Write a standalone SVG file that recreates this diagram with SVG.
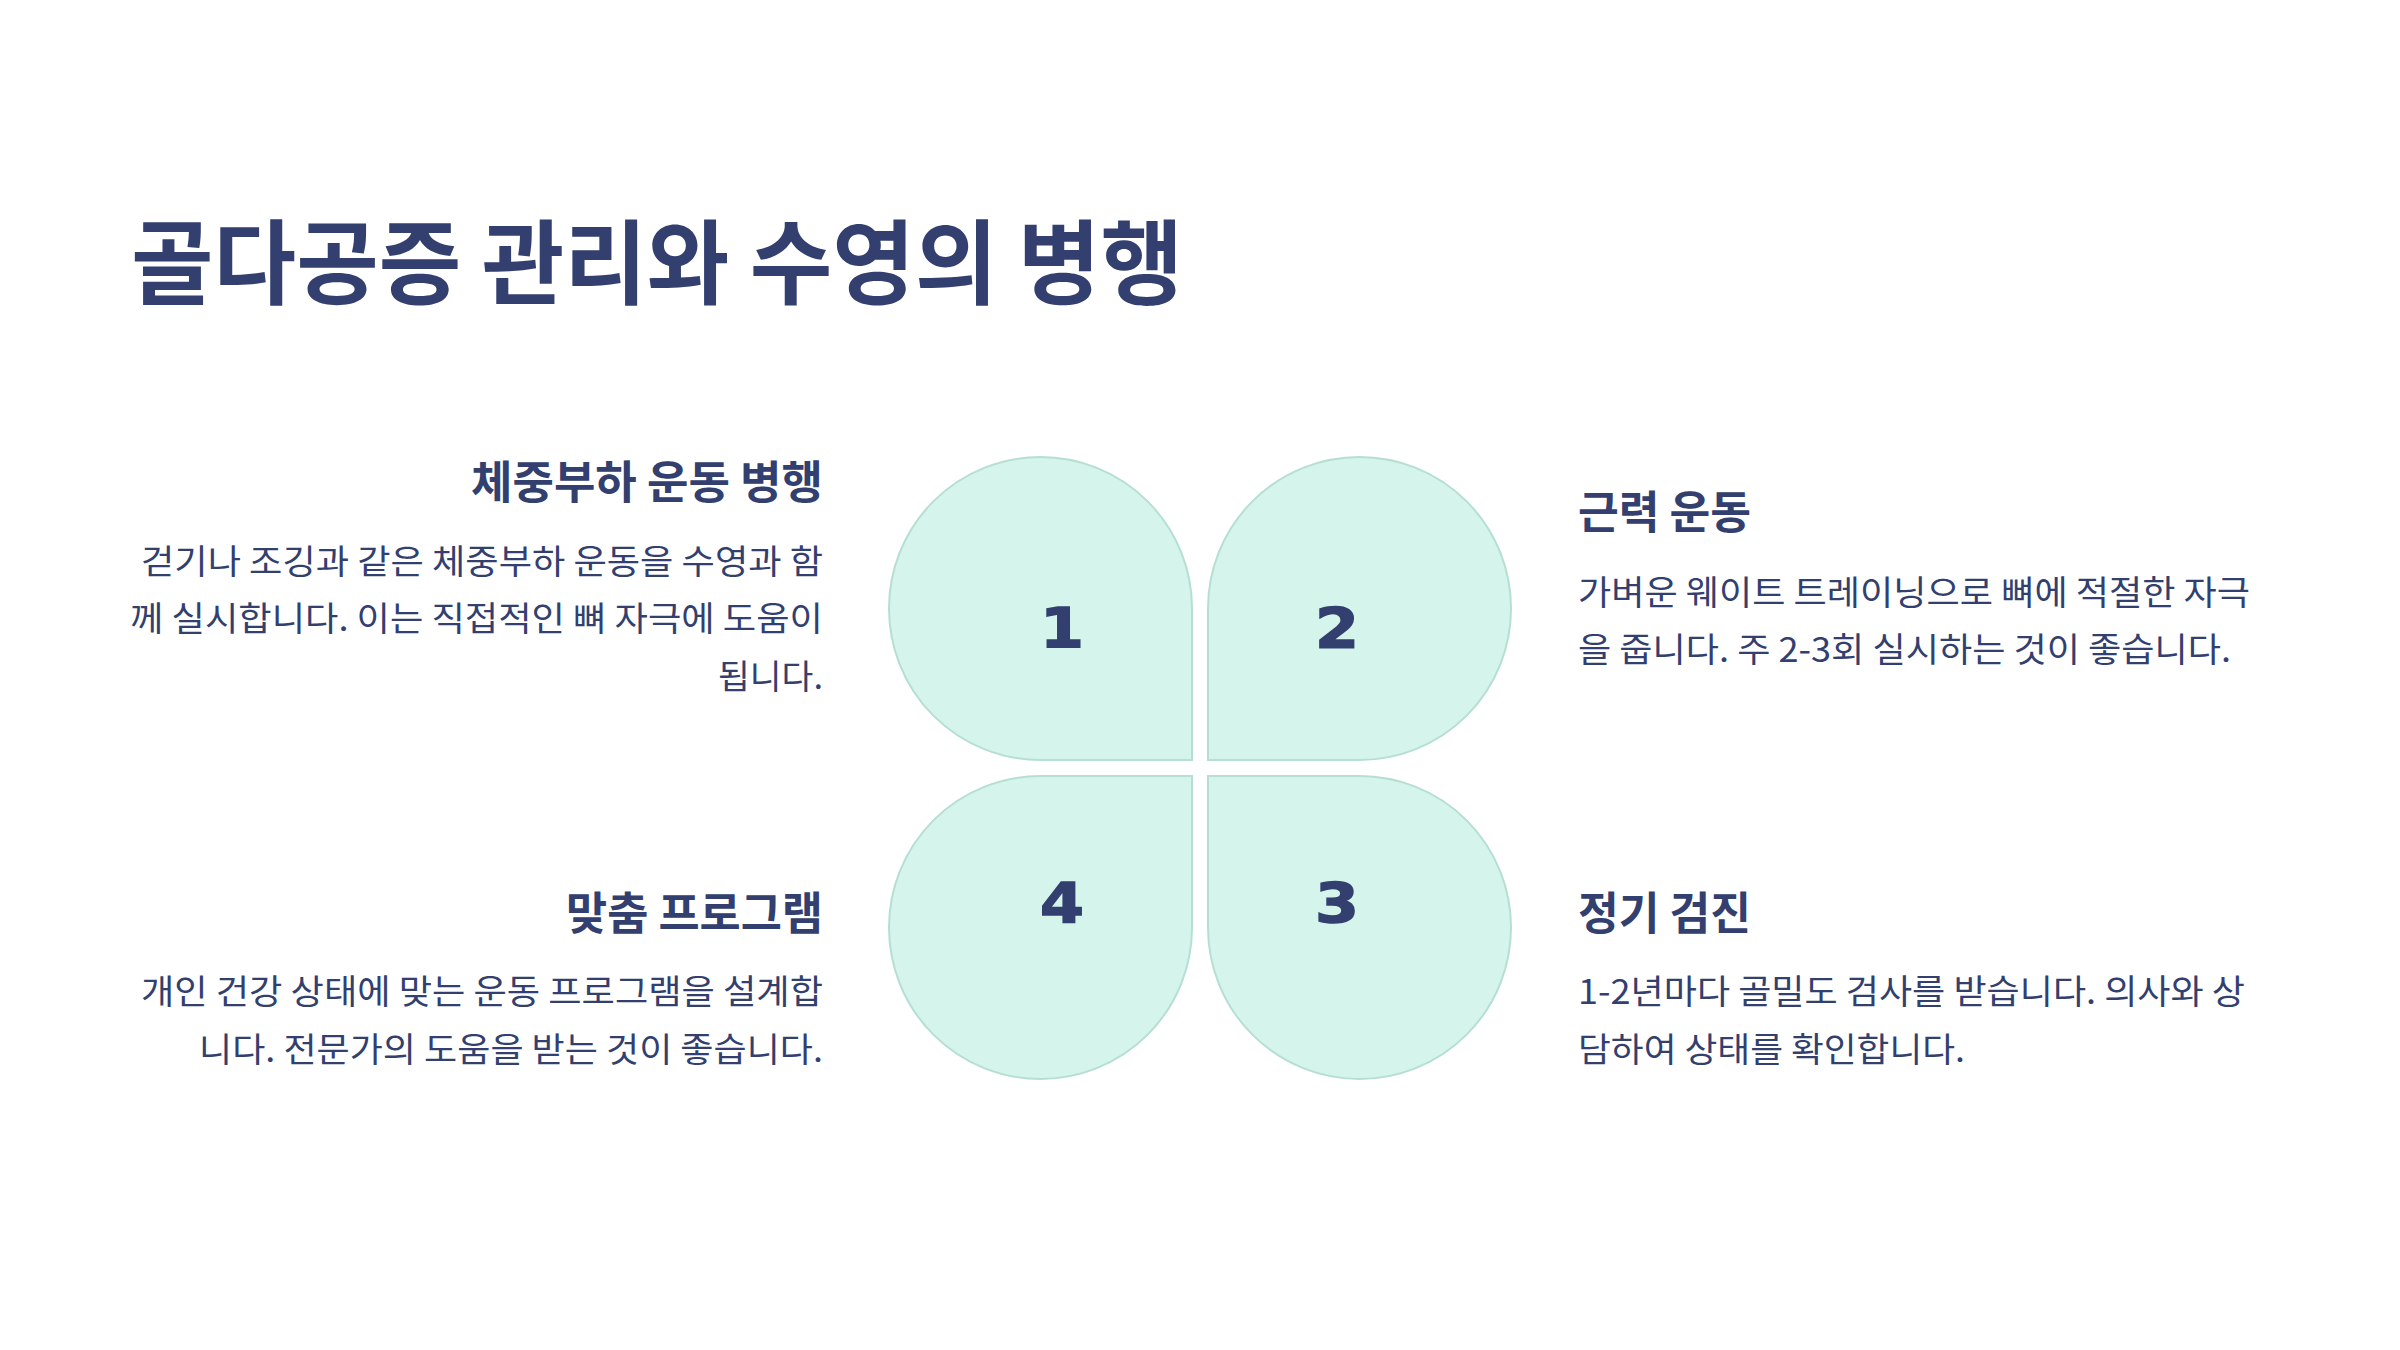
<svg xmlns="http://www.w3.org/2000/svg" width="2400" height="1350" viewBox="0 0 2400 1350">
<style>
.t{font-family:"Noto Sans CJK KR","Noto Sans",sans-serif;fill:#323F6F}
.title{font-size:92px;font-weight:700}
.h{font-size:45px;font-weight:700}
.b{font-size:34px;font-weight:400}
.petal{fill:#D5F4EC;stroke:#B6DFD4;stroke-width:2}
.num{font-family:"DejaVu Sans",sans-serif;font-weight:700;font-size:55px;fill:#323F6F;stroke:#323F6F;stroke-width:1.5;text-anchor:middle}
.r{text-anchor:end}
</style>
<rect width="2400" height="1350" fill="#FFFFFF"/>
<text class="t title" x="131" y="297" textLength="1052" lengthAdjust="spacingAndGlyphs">골다공증 관리와 수영의 병행</text>

<g id="node1">
<path class="petal" d="M1192 760 L1040.5 760 A151.5 151.5 0 0 1 889 608.5 A151.5 151.5 0 0 1 1040.5 457 A151.5 151.5 0 0 1 1192 608.5 Z"/>
<text class="num" transform="translate(1062,647) scale(1.15,1)">1</text>
<text class="t h r" x="823" y="499" textLength="352" lengthAdjust="spacingAndGlyphs">체중부하 운동 병행</text>
<text class="t b r" x="823" y="574" textLength="682" lengthAdjust="spacingAndGlyphs">걷기나 조깅과 같은 체중부하 운동을 수영과 함</text>
<text class="t b r" x="823" y="631" textLength="693" lengthAdjust="spacingAndGlyphs">께 실시합니다. 이는 직접적인 뼈 자극에 도움이</text>
<text class="t b r" x="823" y="689" textLength="105" lengthAdjust="spacingAndGlyphs">됩니다.</text>
</g>

<g id="node2">
<path class="petal" d="M1208 760 L1208 608.5 A151.5 151.5 0 0 1 1359.5 457 A151.5 151.5 0 0 1 1511 608.5 A151.5 151.5 0 0 1 1359.5 760 Z"/>
<text class="num" transform="translate(1337,647) scale(1.15,1)">2</text>
<text class="t h" x="1578" y="529" textLength="173" lengthAdjust="spacingAndGlyphs">근력 운동</text>
<text class="t b" x="1578" y="605" textLength="672" lengthAdjust="spacingAndGlyphs">가벼운 웨이트 트레이닝으로 뼈에 적절한 자극</text>
<text class="t b" x="1578" y="662" textLength="653" lengthAdjust="spacingAndGlyphs">을 줍니다. 주 2-3회 실시하는 것이 좋습니다.</text>
</g>

<g id="node3">
<path class="petal" d="M1208 776 L1359.5 776 A151.5 151.5 0 0 1 1511 927.5 A151.5 151.5 0 0 1 1359.5 1079 A151.5 151.5 0 0 1 1208 927.5 Z"/>
<text class="num" transform="translate(1337,922) scale(1.15,1)">3</text>
<text class="t h" x="1578" y="930" textLength="173" lengthAdjust="spacingAndGlyphs">정기 검진</text>
<text class="t b" x="1578" y="1004" textLength="667" lengthAdjust="spacingAndGlyphs">1-2년마다 골밀도 검사를 받습니다. 의사와 상</text>
<text class="t b" x="1578" y="1062" textLength="387" lengthAdjust="spacingAndGlyphs">담하여 상태를 확인합니다.</text>
</g>

<g id="node4">
<path class="petal" d="M1192 776 L1192 927.5 A151.5 151.5 0 0 1 1040.5 1079 A151.5 151.5 0 0 1 889 927.5 A151.5 151.5 0 0 1 1040.5 776 Z"/>
<text class="num" transform="translate(1062,922) scale(1.15,1)">4</text>
<text class="t h r" x="823" y="930" textLength="257" lengthAdjust="spacingAndGlyphs">맞춤 프로그램</text>
<text class="t b r" x="823" y="1004" textLength="682" lengthAdjust="spacingAndGlyphs">개인 건강 상태에 맞는 운동 프로그램을 설계합</text>
<text class="t b r" x="823" y="1062" textLength="624" lengthAdjust="spacingAndGlyphs">니다. 전문가의 도움을 받는 것이 좋습니다.</text>
</g>

<g id="connectors"></g>
</svg>
